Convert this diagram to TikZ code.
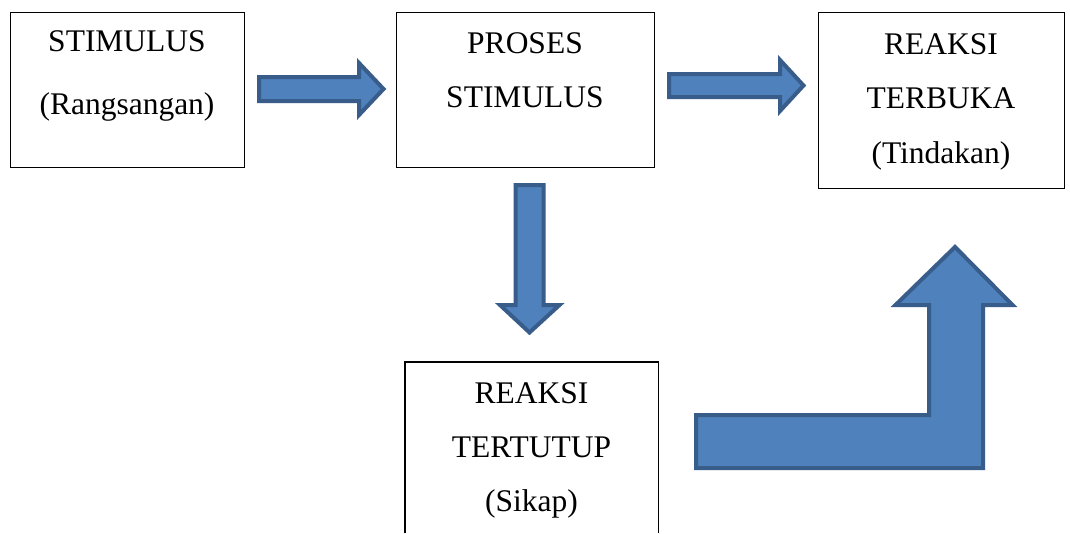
\documentclass[tikz,border=0pt]{standalone}
\usepackage{fontspec}
\setmainfont{Liberation Serif}
\definecolor{arrowfill}{HTML}{4F81BD}
\definecolor{arrowline}{HTML}{385D8A}
\begin{document}
\begin{tikzpicture}[x=1pt,y=-1pt,
  boxline/.style={draw=black, line width=1.2pt},
  box/.style={boxline, anchor=north west, inner sep=0pt},
  lbl/.style={anchor=base, inner sep=0pt, font=\fontsize{31.5}{36}\selectfont},
  blockarrow/.style={fill=arrowfill, draw=arrowline, line width=4pt, line join=miter}]
\useasboundingbox (0,0) rectangle (1070,533);
\fill[white] (0,0) rectangle (1070,533);
% boxes
\node[box, minimum width=234pt, minimum height=155pt] (b1) at (10,12) {};
\node[box, minimum width=258pt, minimum height=155pt] (b2) at (396,12) {};
\node[box, minimum width=246pt, minimum height=176pt] (b3) at (818,12) {};
\node[anchor=north west, inner sep=0pt, minimum width=253pt, minimum height=171pt] (b4) at (405,362) {};
\draw[boxline] (b4.south west) -- (b4.north west) -- (b4.north east) -- (b4.south east);
% labels
\node[lbl] (t1a) at (127,51) {STIMULUS};
\node[lbl] (t1b) at (127,114) {(Rangsangan)};
\node[lbl] (t2a) at (525,53) {PROSES};
\node[lbl] (t2b) at (525,107) {STIMULUS};
\node[lbl] (t3a) at (941,54) {REAKSI};
\node[lbl] (t3b) at (941,108) {TERBUKA};
\node[lbl] (t3c) at (941,163) {(Tindakan)};
\node[lbl] (t4a) at (531.5,403) {REAKSI};
\node[lbl] (t4b) at (531.5,457) {TERTUTUP};
\node[lbl] (t4c) at (531.5,511) {(Sikap)};
% block arrows
\draw[blockarrow] (259,77) -- (359,77) -- (359,63) -- (383.5,89) -- (359,115) -- (359,101) -- (259,101) -- cycle;
\draw[blockarrow] (669,74) -- (780,74) -- (780,60) -- (803.5,85.5) -- (780,111) -- (780,97) -- (669,97) -- cycle;
\draw[blockarrow] (515.5,185) -- (543.5,185) -- (543.5,305) -- (559.5,305) -- (529.5,332.5) -- (500,305) -- (515.5,305) -- cycle;
\draw[blockarrow] (696,415) -- (929,415) -- (929,305) -- (895.5,305) -- (955,247) -- (1012.5,305) -- (983,305) -- (983,468) -- (696,468) -- cycle;
\end{tikzpicture}
\end{document}
